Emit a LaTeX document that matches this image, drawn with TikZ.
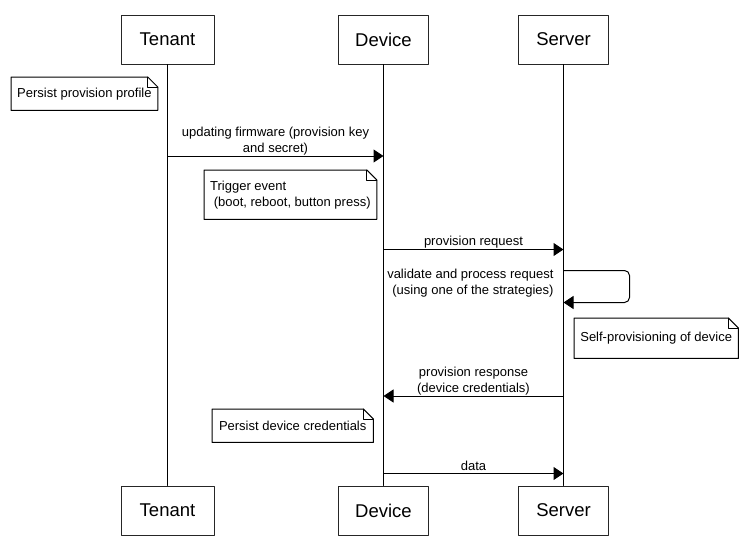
\documentclass[tikz,border=0pt]{standalone}
\usepackage{fontspec}
\setmainfont{Liberation Sans}
\usetikzlibrary{calc,arrows.meta}

\begin{document}
\begin{tikzpicture}[x=1pt, y=-1pt, line cap=round, line join=round,
    >={Triangle[length=10pt,width=13pt]}]
    \tikzset{
      actor/.style={draw=black!85, line width=1pt, minimum width=90pt, minimum height=49pt,
        inner sep=0pt, font=\fontsize{18.5}{20}\selectfont},
      note/.style={anchor=north west, minimum height=#1, inner sep=0pt, inner xsep=6pt,
        align=left, font=\fontsize{13}{16}\selectfont},
      msg/.style={->, line width=1pt},
      lbl/.style={align=center, font=\fontsize{13}{16}\selectfont}
    }
    \useasboundingbox (0,0) rectangle (748,560);

    % participants
    \node[actor, minimum width=93pt] (T) at (167.5,39.5) {Tenant};
    \node[actor] (D) at (383.5,39.5) {Device};
    \node[actor] (S) at (563.5,39.5) {Server};
    \node[actor, minimum width=93pt] (Tb) at (167.5,510.5) {Tenant};
    \node[actor] (Db) at (383.5,510.5) {Device};
    \node[actor] (Sb) at (563.5,510.5) {Server};

    \draw[line width=1pt] (T) -- (Tb);
    \draw[line width=1pt] (D) -- (Db);
    \draw[line width=1pt] (S) -- (Sb);

    % points on the lifelines
    \coordinate (t1) at (167.5,156);
    \coordinate (d1) at (383.5,156);
    \coordinate (d2) at (383.5,249.5);
    \coordinate (s2) at (563.5,249.5);
    \coordinate (s3) at (563.5,270.5);
    \coordinate (s4) at (563.5,302.5);
    \coordinate (s5) at (563.5,396);
    \coordinate (d5) at (383.5,396);
    \coordinate (d6) at (383.5,473.5);
    \coordinate (s6) at (563.5,473.5);

    % messages
    \draw[msg] (t1) -- (d1)
      node[lbl, midway, above=-3pt] {updating firmware (provision key\\and secret)};
    \draw[msg] (d2) -- (s2) node[lbl, midway, above=-3pt] {provision request};
    \draw[msg, rounded corners=5pt] (s3) -- ++(66,0) -- ++(0,32) -- (s4);
    \node[lbl, align=right, anchor=north east] (vl) at (557,266)
      {validate and process request\\ (using one of the strategies)};
    \draw[msg] (s5) -- (d5)
      node[lbl, midway, above=-3pt] {provision response\\(device credentials)};
    \draw[msg] (d6) -- (s6) node[lbl, midway, above=-1pt] {data};

    % notes
    \node[note=33pt, minimum width=146pt] (n1) at (11,77) {Persist provision profile};
    \node[note=49pt, minimum width=168pt] (n2) at (204,170) {Trigger event\\\ (boot, reboot, button press)};
    \node[note=40pt, minimum width=164pt, inner xsep=5pt] (n3) at (574,318) {Self-provisioning of device};
    \node[note=33pt, minimum width=161pt] (n4) at (212,409) {Persist device credentials};

    \foreach \n in {n1,n2,n3,n4} {
      \draw[line width=1pt] (\n.south west) -- (\n.north west)
        -- ($(\n.north east)+(-10,0)$) -- ($(\n.north east)+(0,10)$)
        -- (\n.south east) -- cycle;
      \draw[line width=0.7pt] ($(\n.north east)+(-10,0)$) -- ($(\n.north east)+(-10,10)$)
        -- ($(\n.north east)+(0,10)$);
    }
\end{tikzpicture}
\end{document}
